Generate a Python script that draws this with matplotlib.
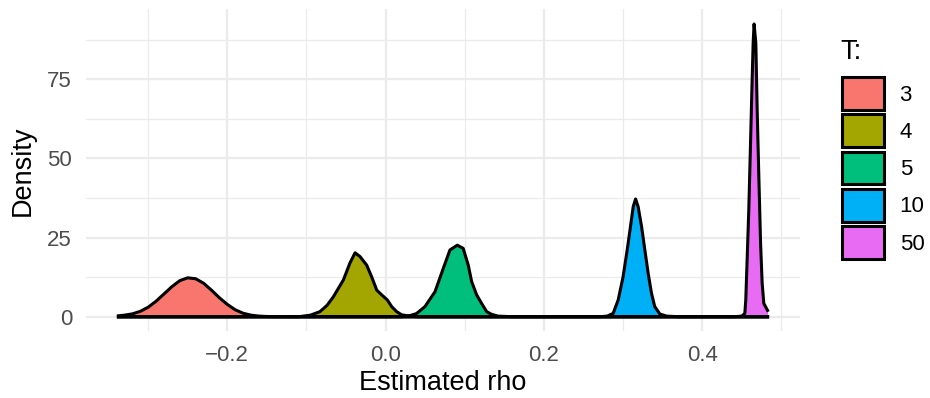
import matplotlib.pyplot as plt
from matplotlib.patches import Patch

# density curves (x = estimated rho, y = density)
rho_t3 = [-0.3375, -0.33, -0.32, -0.31, -0.30, -0.29, -0.28, -0.27, -0.26, -0.25, -0.24,
          -0.23, -0.22, -0.21, -0.20, -0.19, -0.18, -0.17, -0.16, -0.15, -0.14, -0.12, 0.4825]
dens_t3 = [0.3, 0.5, 0.9, 1.7, 3.0, 4.9, 7.2, 9.5, 11.4, 12.3, 12.0,
           10.6, 8.4, 6.0, 3.9, 2.2, 1.1, 0.5, 0.2, 0.08, 0.02, 0.0, 0.0]

rho_t4 = [-0.3375, -0.11, -0.095, -0.083, -0.074, -0.066, -0.0534, -0.045, -0.0386, -0.0323,
          -0.0239, -0.0176, -0.0112, -0.0049, 0.0022, 0.0077, 0.014, 0.0203, 0.028, 0.04, 0.4825]
dens_t4 = [0.0, 0.0, 0.5, 1.6, 3.6, 6.3, 11.6, 17.0, 20.2, 19.0,
           16.3, 12.6, 8.4, 6.9, 5.3, 3.2, 1.6, 0.6, 0.3, 0.0, 0.0]

rho_t5 = [-0.3375, 0.02, 0.03, 0.039, 0.0497, 0.0624, 0.0729, 0.0813, 0.0905, 0.098,
          0.1044, 0.1087, 0.115, 0.1213, 0.1277, 0.134, 0.142, 0.16, 0.4825]
dens_t5 = [0.0, 0.0, 0.3, 1.0, 3.2, 7.9, 15.3, 21.1, 22.6, 21.6,
           16.3, 11.1, 6.9, 4.2, 1.6, 0.75, 0.2, 0.0, 0.0]

rho_t10 = [-0.3375, 0.27, 0.28, 0.2875, 0.2938, 0.300, 0.3052, 0.3099, 0.3128, 0.3158,
           0.319, 0.3234, 0.3275, 0.3317, 0.3359, 0.340, 0.3465, 0.355, 0.37, 0.4825]
dens_t10 = [0.0, 0.0, 0.2, 1.07, 5.3, 12.6, 21.1, 29.5, 34.8, 37.2,
            34.8, 28.4, 21.1, 13.7, 7.4, 3.2, 0.85, 0.2, 0.0, 0.0]

rho_t50 = [-0.3375, 0.44, 0.45, 0.4538, 0.455, 0.4567, 0.4588, 0.461, 0.4626, 0.4643,
           0.4655, 0.4677, 0.4694, 0.4715, 0.4737, 0.4757, 0.4778, 0.4825]
dens_t50 = [0.0, 0.0, 0.2, 1.07, 5.3, 17.9, 33.7, 54.8, 70.6, 86.4,
            92.5, 86.4, 65.3, 44.2, 23.2, 10.6, 4.2, 2.0]

groups = ['3', '4', '5', '10', '50']
colors = ['#F8766D', '#A3A500', '#00BF7D', '#00B0F6', '#E76BF3']
curves = [(rho_t3, dens_t3), (rho_t4, dens_t4), (rho_t5, dens_t5),
          (rho_t10, dens_t10), (rho_t50, dens_t50)]

x_ticks = [-0.2, 0.0, 0.2, 0.4]
x_labels = ['\u22120.2', '0.0', '0.2', '0.4']
x_minor = [-0.3, -0.1, 0.1, 0.3, 0.5]
y_ticks = [0, 25, 50, 75]
y_labels = ['0', '25', '50', '75']
y_minor = [12.5, 37.5, 62.5, 87.5]

plt.rcParams['font.family'] = ['Liberation Sans', 'DejaVu Sans']

fig = plt.figure(figsize=(9.3, 3.98), dpi=100)
ax = fig.add_axes([86 / 930, 1 - 331.3 / 398, 714 / 930, 321.9 / 398])

for (x, d), c in zip(curves, colors):
    ax.fill_between(x, 0, d, color=c, lw=0)
    ax.plot(x, d, color='black', lw=2.2, solid_joinstyle='round')

ax.set_xlim(-0.3785, 0.5235)
ax.set_ylim(-4.6, 97.1)
ax.set_xticks(x_ticks)
ax.set_xticklabels(x_labels)
ax.set_xticks(x_minor, minor=True)
ax.set_yticks(y_ticks)
ax.set_yticklabels(y_labels)
ax.set_yticks(y_minor, minor=True)
ax.grid(which='major', color='#EBEBEB', lw=1.6)
ax.grid(which='minor', color='#EBEBEB', lw=0.9)
ax.set_axisbelow(True)
for s in ax.spines.values():
    s.set_visible(False)
ax.tick_params(which='both', length=0, labelsize=16, labelcolor='#4D4D4D', pad=10)
ax.set_xlabel('Estimated rho', fontsize=19.5, labelpad=3)
ax.set_ylabel('Density', fontsize=19.5, labelpad=8)

fig.text(840 / 930, 1 - 52 / 398, 'T:', fontsize=19.5, ha='left', va='center')
handles = [Patch(facecolor=c, edgecolor='black', lw=2.2) for c in colors]
fig.legend(handles, groups, loc='upper left', bbox_to_anchor=(842 / 930, 1 - 77 / 398),
           frameon=False, fontsize=16, handlelength=42 / 22.2, handleheight=42 / 22.2,
           labelspacing=4.5 / 22.2, handletextpad=0.7, borderpad=0, borderaxespad=0)

fig.savefig('out.png', dpi=100)
